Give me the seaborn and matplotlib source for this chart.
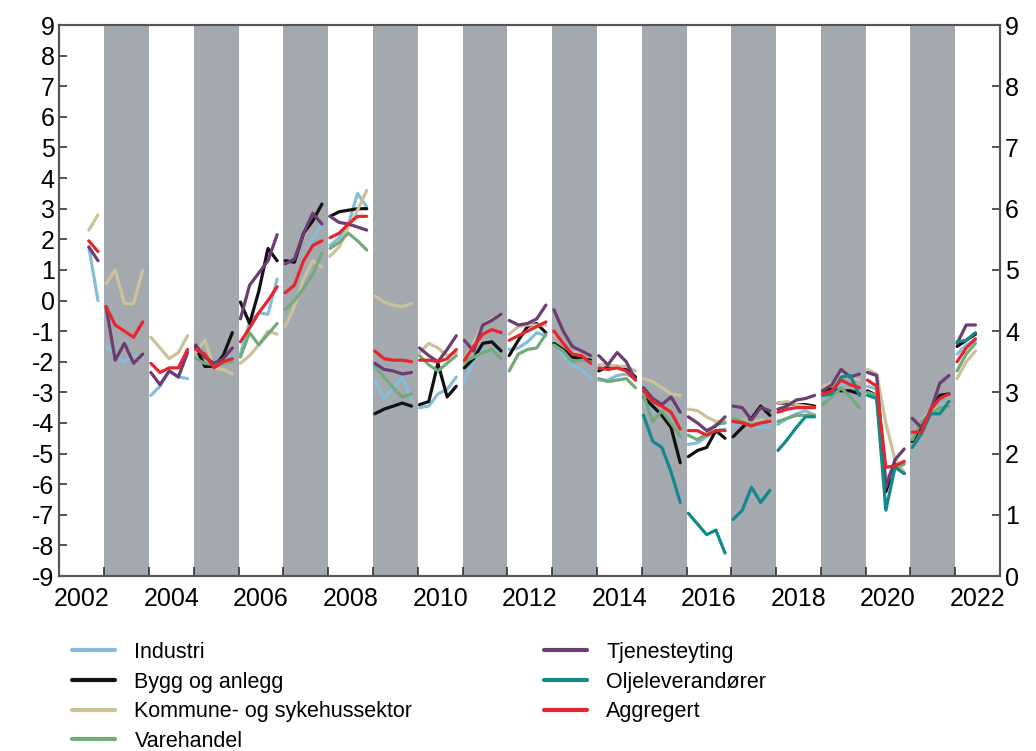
import numpy as np
import pandas as pd
import matplotlib
matplotlib.use("Agg")
import matplotlib.pyplot as plt
from matplotlib.lines import Line2D
import seaborn as sns

n = np.nan

years = list(range(2002, 2023))
# survey rounds within each year (fraction of the year)
survey_offsets = [0.04, 0.245, 0.45, 0.655, 0.86]

industri = [
    [n, n, n, 1.75, 0.0], [-1.5, -1.8, -2.0, -1.8, -1.85], [-3.1, -2.8, -2.3, -2.5, -2.55],
    [-1.95, -2.05, -2.1, -1.95, -1.85], [-1.75, -0.7, -0.4, -0.45, 0.7], [0.2, 0.5, 1.3, 2.0, 2.5],
    [1.8, 2.05, 2.5, 3.5, 3.05], [-2.6, -3.2, -2.85, -2.5, -3.25], [-3.5, -3.45, -3.05, -2.9, -2.5],
    [-2.65, -1.95, -1.6, -1.65, -1.6], [-1.6, -1.55, -1.35, -1.05, -1.15], [-1.3, -1.8, -2.1, -2.25, -2.55],
    [-2.6, -2.6, -2.45, -2.4, -2.55], [-3.35, -3.65, -3.65, -3.9, -4.55], [-4.7, -4.65, -4.45, -4.25, -4.2],
    [-4.1, -3.95, -4.1, -4.15, -4.15], [-4.05, -3.85, -3.7, -3.6, -3.75], [-3.35, -3.1, -2.7, -2.75, -2.95],
    [-2.8, -2.9, -5.85, -5.4, -5.3], [-4.5, -3.9, -3.65, -3.45, -3.35], [-1.75, -1.45, -1.3, n, n],
]
bygg = [
    [n] * 5, [n] * 5, [n] * 5,
    [-1.5, -2.15, -2.15, -1.8, -1.05], [-0.05, -0.75, 0.3, 1.7, 1.3], [1.3, 1.25, 2.2, 2.6, 3.15],
    [2.75, 2.9, 2.95, 3.0, 3.0], [-3.7, -3.55, -3.45, -3.35, -3.45], [-3.4, -3.3, -2.05, -3.15, -2.8],
    [-2.2, -1.9, -1.4, -1.35, -1.65], [-1.8, -1.3, -0.85, -0.75, -1.05], [-1.4, -1.6, -1.85, -1.9, -1.95],
    [-2.3, -2.15, -2.15, -2.2, -2.5], [-3.15, -3.45, -3.75, -4.15, -5.3], [-5.1, -4.9, -4.8, -4.25, -4.5],
    [-4.45, -4.15, -3.85, -3.45, -3.75], [-3.35, -3.35, -3.4, -3.4, -3.45], [-2.95, -2.9, -2.95, -2.95, -3.05],
    [-2.95, -3.1, -6.25, -5.35, -5.65], [-4.6, -4.1, -3.6, -3.1, -3.05], [-1.5, -1.3, -1.1, n, n],
]
kommune = [
    [n, n, n, 2.3, 2.8], [0.55, 1.0, -0.1, -0.1, 1.0], [-1.2, -1.55, -1.9, -1.7, -1.15],
    [-1.7, -1.3, -2.2, -2.25, -2.4], [-2.05, -1.8, -1.45, -1.0, -1.1], [-0.85, -0.2, 0.7, 1.3, 1.1],
    [1.45, 1.75, 2.4, 2.95, 3.6], [0.15, -0.05, -0.15, -0.2, -0.1], [-1.7, -1.4, -1.55, -1.8, -1.7],
    [-1.9, -1.4, -0.8, -0.6, -0.5], [-1.1, -0.85, -0.8, -0.8, -0.8], [-1.1, -1.4, -1.7, -1.7, -1.8],
    [-2.1, -2.1, -2.15, -2.15, -2.3], [-2.55, -2.65, -2.85, -3.05, -3.1], [-3.55, -3.6, -3.8, -3.95, -3.95],
    [-3.9, -3.9, -4.0, -3.9, -4.0], [-3.35, -3.3, -3.4, -3.45, -3.5], [-2.8, -2.7, -2.4, -2.5, -2.6],
    [-2.25, -2.4, -4.0, -5.2, -5.6], [-4.5, -3.9, -3.6, -3.5, -3.4], [-2.55, -2.0, -1.65, n, n],
]
varehandel = [
    [n] * 5, [n] * 5, [n] * 5,
    [-1.9, -2.05, -2.1, -2.05, -2.0], [-1.85, -1.05, -1.45, -1.1, -0.75], [-0.3, 0.0, 0.4, 0.85, 1.55],
    [1.7, 1.9, 2.2, 1.95, 1.65], [-2.15, -2.5, -2.85, -3.15, -3.05], [-1.8, -2.1, -2.3, -2.05, -1.8],
    [-2.0, -1.85, -1.7, -1.6, -1.9], [-2.3, -1.75, -1.6, -1.55, -1.1], [-1.45, -1.65, -2.0, -1.95, -2.0],
    [-2.55, -2.65, -2.6, -2.55, -2.85], [-3.1, -3.95, -3.6, -4.0, -4.45], [-4.4, -4.55, -4.35, -4.05, -4.0],
    [-3.85, -3.95, -4.05, -4.0, -3.95], [-3.95, -3.85, -3.75, -3.75, -3.75], [-3.4, -3.15, -2.85, -3.15, -3.5],
    [-3.0, -3.1, -6.0, -5.45, -5.35], [-4.55, -3.95, -3.7, -3.5, -3.45], [-2.3, -1.75, -1.4, n, n],
]
tjeneste = [
    [n, n, n, 1.75, 1.3], [-0.2, -1.95, -1.4, -2.05, -1.75], [-2.35, -2.75, -2.3, -2.5, -1.7],
    [-1.45, -1.85, -2.05, -1.9, -1.55], [-0.6, 0.5, 0.9, 1.3, 2.15], [1.2, 1.35, 2.2, 2.85, 2.5],
    [2.75, 2.55, 2.5, 2.4, 2.3], [-2.05, -2.25, -2.3, -2.4, -2.35], [-1.55, -1.8, -2.0, -1.6, -1.15],
    [-1.3, -1.65, -0.8, -0.65, -0.45], [-0.65, -0.8, -0.75, -0.6, -0.15], [-0.3, -1.0, -1.5, -1.65, -1.8],
    [-1.8, -2.1, -1.7, -2.0, -2.6], [-2.85, -3.2, -3.4, -3.15, -3.65], [-3.8, -4.0, -4.25, -4.1, -3.8],
    [-3.45, -3.5, -3.9, -3.5, -3.6], [-3.55, -3.45, -3.25, -3.2, -3.1], [-2.95, -2.75, -2.25, -2.5, -2.4],
    [-2.35, -2.45, -6.1, -5.2, -4.85], [-3.85, -4.15, -3.6, -2.7, -2.45], [-1.4, -0.8, -0.8, n, n],
]
olje = [[n] * 5] * 13 + [
    [-3.75, -4.6, -4.8, -5.6, -6.6], [-6.95, -7.3, -7.65, -7.5, -8.25], [-7.15, -6.85, -6.1, -6.6, -6.2],
    [-4.9, -4.55, -4.15, -3.8, -3.8], [-3.1, -3.05, -2.5, -2.45, -3.1], [-3.1, -3.2, -6.85, -5.45, -5.65],
    [-4.8, -4.35, -3.7, -3.7, -3.3], [-1.35, -1.3, -1.05, n, n],
]
aggregert = [
    [n, n, n, 1.95, 1.6], [-0.2, -0.8, -1.0, -1.2, -0.7], [-2.05, -2.35, -2.2, -2.2, -1.6],
    [-1.6, -1.75, -2.2, -2.0, -1.9], [-1.35, -0.9, -0.4, 0.0, 0.45], [0.25, 0.5, 1.3, 1.8, 1.95],
    [2.05, 2.2, 2.5, 2.75, 2.75], [-1.65, -1.9, -1.95, -1.95, -2.0], [-1.95, -1.95, -2.0, -1.9, -1.6],
    [-1.95, -1.5, -1.1, -0.95, -1.05], [-1.3, -1.15, -1.0, -0.85, -0.7], [-1.0, -1.4, -1.75, -1.8, -2.05],
    [-2.2, -2.25, -2.2, -2.3, -2.6], [-2.95, -3.3, -3.45, -3.65, -4.2], [-4.25, -4.25, -4.4, -4.25, -4.25],
    [-3.95, -4.0, -4.1, -4.0, -3.95], [-3.65, -3.55, -3.5, -3.5, -3.5], [-3.05, -2.95, -2.6, -2.75, -2.85],
    [-2.6, -2.8, -5.45, -5.4, -5.25], [-4.3, -4.3, -3.55, -3.2, -3.05], [-2.0, -1.55, -1.25, n, n],
]

series_names = ["Industri", "Bygg og anlegg", "Kommune- og sykehussektor", "Varehandel",
                "Tjenesteyting", "Oljeleverandører", "Aggregert"]
series_data = [industri, bygg, kommune, varehandel, tjeneste, olje, aggregert]
colors = ["#86bdd8", "#111111", "#cbc19b", "#74a97c", "#6c3c72", "#13898b", "#e5262e"]
shaded_years = list(range(2003, 2022, 2))
label_years = list(range(2002, 2023, 2))

rows = []
for name, data in zip(series_names, series_data):
    for yr, vals in zip(years, data):
        for off, v in zip(survey_offsets, vals):
            if not np.isnan(v):
                rows.append({"x": yr + off, "value": v, "series": name, "year": yr})
df = pd.DataFrame(rows)

sns.set_style("ticks")
plt.rcParams["font.family"] = ["Liberation Sans", "DejaVu Sans"]
plt.rcParams["axes.unicode_minus"] = False
plt.rcParams["text.color"] = "black"
plt.rcParams["xtick.labelcolor"] = "black"
plt.rcParams["ytick.labelcolor"] = "black"

fig = plt.figure(figsize=(10.36, 7.51), dpi=100)
ax = fig.add_axes([0.0574, 0.233, 0.9079, 0.7337])

for yr in shaded_years:
    ax.axvspan(yr, yr + 1, color="#a3a9af", lw=0, zorder=0)

sns.lineplot(data=df, x="x", y="value", hue="series", units="year", estimator=None,
             sort=False, hue_order=series_names, palette=colors, linewidth=2.3,
             legend=False, ax=ax)

ax.set_xlim(2002, 2023)
ax.set_ylim(-9, 9)
ax.set_yticks(range(-9, 10))
ax.set_xticks([y + 0.5 for y in label_years])
ax.set_xticklabels([str(y) for y in label_years])
ax.set_xticks(range(2003, 2023), minor=True)
ax.tick_params(axis="x", which="major", length=0, labelsize=18, pad=8, labelcolor="black")
ax.tick_params(axis="x", which="minor", direction="in", length=6.5, width=1.2, color="#333333")
ax.tick_params(axis="y", direction="in", length=6, width=1.2, labelsize=18, color="#333333",
               labelcolor="black")
ax.set_xlabel("")
ax.set_ylabel("")

ax2 = ax.twinx()
ax2.set_ylim(0, 9)
ax2.set_yticks(range(0, 10))
ax2.tick_params(axis="y", direction="in", length=6, width=1.2, labelsize=18, color="#333333",
                labelcolor="black")

for a in (ax, ax2):
    for sp in a.spines.values():
        sp.set_color("#555555")
        sp.set_linewidth(1.5)

handles = [Line2D([], [], color=c, lw=3) for c in colors]
fig.legend(handles, series_names, loc="upper left", bbox_to_anchor=(72 / 1036, 1 - 642 / 751),
           ncol=2, frameon=False, fontsize=15.5, handlelength=2.0, handletextpad=0.9,
           columnspacing=6.1, labelspacing=0.4, borderpad=0, borderaxespad=0,
           labelcolor="black")

fig.savefig("out.png", dpi=100)
